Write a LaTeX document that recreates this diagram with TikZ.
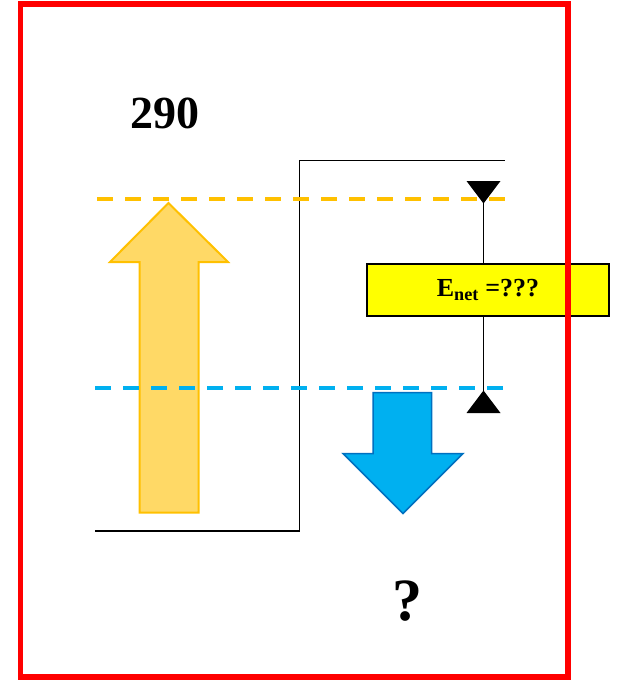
\documentclass[tikz,border=0pt]{standalone}
\usepackage{fontspec}
\setmainfont{Liberation Serif}
\usetikzlibrary{positioning}
\definecolor{frame}{HTML}{FF0000}
\definecolor{gold}{HTML}{FFC000}
\definecolor{goldfill}{HTML}{FFD966}
\definecolor{sky}{HTML}{00B0F0}
\definecolor{skyedge}{HTML}{0070C0}
\definecolor{note}{HTML}{FFFF00}
\definecolor{fg}{HTML}{000000}

\begin{document}
\begin{tikzpicture}[x=1pt,y=-1pt,
  level/.style={line width=3.5pt, dash pattern=on 16pt off 12pt},
  upblock/.style={draw=gold, line width=2pt, fill=goldfill, line join=miter},
  downblock/.style={draw=skyedge, line width=1.5pt, fill=sky, line join=miter},
  profile/.style={draw=fg, line width=1.2pt},
  big/.style={text=fg, font=\bfseries\fontsize{46}{46}\selectfont, inner sep=0pt},
  bigger/.style={text=fg, font=\bfseries\fontsize{60}{60}\selectfont, inner sep=0pt},
  netbox/.style={draw=fg, line width=1.5pt, fill=note, text=fg, font=\bfseries\fontsize{26}{28}\selectfont},
]
\useasboundingbox (0,0) rectangle (616,685);

% energy profile
\coordinate (low) at (95,531);
\coordinate (high) at (505,160.5);
\draw[profile] (low) -- (299.5,531) -- (299.5,160.5) -- (high);

% block arrows
\draw[upblock] (139.5,512.5) -- (139.5,262) -- (110,262) -- (168.5,203)
  -- (228,262) -- (198.5,262) -- (198.5,512.5) -- cycle;
\draw[downblock] (373,392.5) -- (431.5,392.5) -- (431.5,453.5) -- (463,453.5)
  -- (403,513.5) -- (343,453.5) -- (373,453.5) -- cycle;

% levels
\draw[level, draw=gold] (97,199) -- (505,199);
\draw[level, draw=sky] (95,388) -- (505,388);

% net energy marker
\coordinate (ttop) at (483.5,181);
\coordinate (tbot) at (483.5,413);
\draw[fg, line width=1pt] (ttop) -- (tbot);
\fill[fg] (ttop) ++(-17,0) -- ++(34,0) -- (483.5,203.5) -- cycle;
\fill[fg] (tbot) ++(-17,0) -- ++(34,0) -- (483.5,390.5) -- cycle;
\node[netbox, minimum width=242pt, minimum height=52pt] (enet) at (488,290)
  {E\textsubscript{net} =???};

% labels
\node[big, anchor=base] (heat) at (165,128) {290};
\node[bigger, anchor=base] (work) at (407,620) {?};

% frame
\draw[draw=frame, line width=5.5pt] (20.5,4) rectangle (568,677);
\end{tikzpicture}
\end{document}
